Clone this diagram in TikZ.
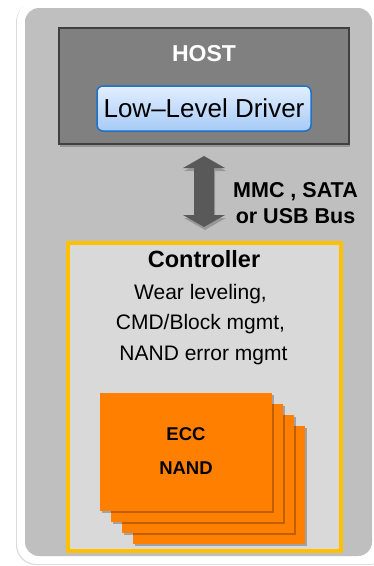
\documentclass[tikz,border=0pt]{standalone}
\usepackage{fontspec}
\setmainfont{Liberation Sans}
\usetikzlibrary{shadows}

\definecolor{panelgray}{HTML}{BFBFBF}
\definecolor{hostfill}{HTML}{808080}
\definecolor{hostedge}{HTML}{404040}
\definecolor{drvtop}{HTML}{E2EFFF}
\definecolor{drvbot}{HTML}{A6CAF6}
\definecolor{drvedge}{HTML}{1C72C9}
\definecolor{busgray}{HTML}{595959}
\definecolor{ctrlfill}{HTML}{D9D9D9}
\definecolor{ctrledge}{HTML}{FFC000}
\definecolor{nandfill}{HTML}{FF8000}

\tikzset{
  softshadow/.style={drop shadow={shadow xshift=1pt, shadow yshift=-3pt, opacity=.22, fill=black}},
  hostbox/.style={draw=hostedge, line width=1.5pt, fill=hostfill, minimum width=290pt,
    minimum height=116pt, inner sep=0pt, softshadow},
  drvbox/.style={draw=drvedge, line width=1.5pt, rounded corners=6pt, top color=drvtop,
    bottom color=drvbot, minimum width=214pt, minimum height=45pt, inner sep=0pt,
    font=\fontsize{26}{30}\selectfont},
  ctrlbox/.style={draw=ctrledge, line width=4.5pt, fill=ctrlfill, minimum width=273pt,
    minimum height=308pt, inner sep=0pt},
  card/.style={fill=nandfill, draw=none, minimum width=172pt, minimum height=118pt,
    inner sep=0pt, drop shadow={shadow xshift=2pt, shadow yshift=-2pt, opacity=.25, fill=black}},
  lbl/.style={anchor=base, inner sep=0pt},
  boldlbl/.style={lbl, font=\bfseries\fontsize{#1}{#1}\selectfont},
  plainlbl/.style={lbl, font=\fontsize{21}{21}\selectfont},
}

\begin{document}
\begin{tikzpicture}[x=1pt, y=-1pt]
\useasboundingbox (0,0) rectangle (374,566);
\clip (0,0) rectangle (374,566);

% white frame and grey panel
\fill[white, rounded corners=20pt,
  drop shadow={shadow xshift=-1pt, shadow yshift=-1pt, opacity=.14, fill=black}]
  (17,1) rectangle (390,564);
\fill[panelgray, rounded corners=14pt] (25,8) rectangle (372,556);

% host side
\node[hostbox] (host) at (204,86) {};
\node[boldlbl=23, text=white] (hostlabel) at (204,61) {HOST};
\node[drvbox] (driver) at (204,108.5) {Low–Level Driver};

% controller side
\node[ctrlbox] (ctrl) at (204.5,397) {};
\node[boldlbl=23.5] (ctrllabel) at (204,267) {Controller};
\node[plainlbl] (wear) at (200.5,299) {Wear leveling,};
\node[plainlbl] (cmd) at (200.5,329) {CMD/Block mgmt,};
\node[plainlbl] (nanderr) at (203.5,360) {NAND error mgmt};

% stacked NAND dies, back to front
\node[card] (die4) at (219,485) {};
\node[card] (die3) at (208,474) {};
\node[card] (die2) at (197,463) {};
\node[card] (die1) at (186,452) {};
\node[boldlbl=18.5] (ecc) at (186,440) {ECC};
\node[boldlbl=18.5] (nand) at (186,474) {NAND};

% bidirectional bus between host and controller
\coordinate (bustop) at (204,156);
\coordinate (busbot) at (204,227);
\fill[busgray, drop shadow={shadow xshift=1pt, shadow yshift=-3pt, opacity=.2, fill=black}]
  (bustop) -- ++(21,12) -- ++(-11,0) -- (214,215) -- ++(11,0) -- (busbot)
  -- ++(-21,-12) -- ++(11,0) -- (194,168) -- ++(-11,0) -- cycle;
\node[boldlbl=21.5] (bus1) at (295.5,197) {MMC , SATA};
\node[boldlbl=21.5] (bus2) at (295.5,223) {or USB Bus};
\end{tikzpicture}
\end{document}
